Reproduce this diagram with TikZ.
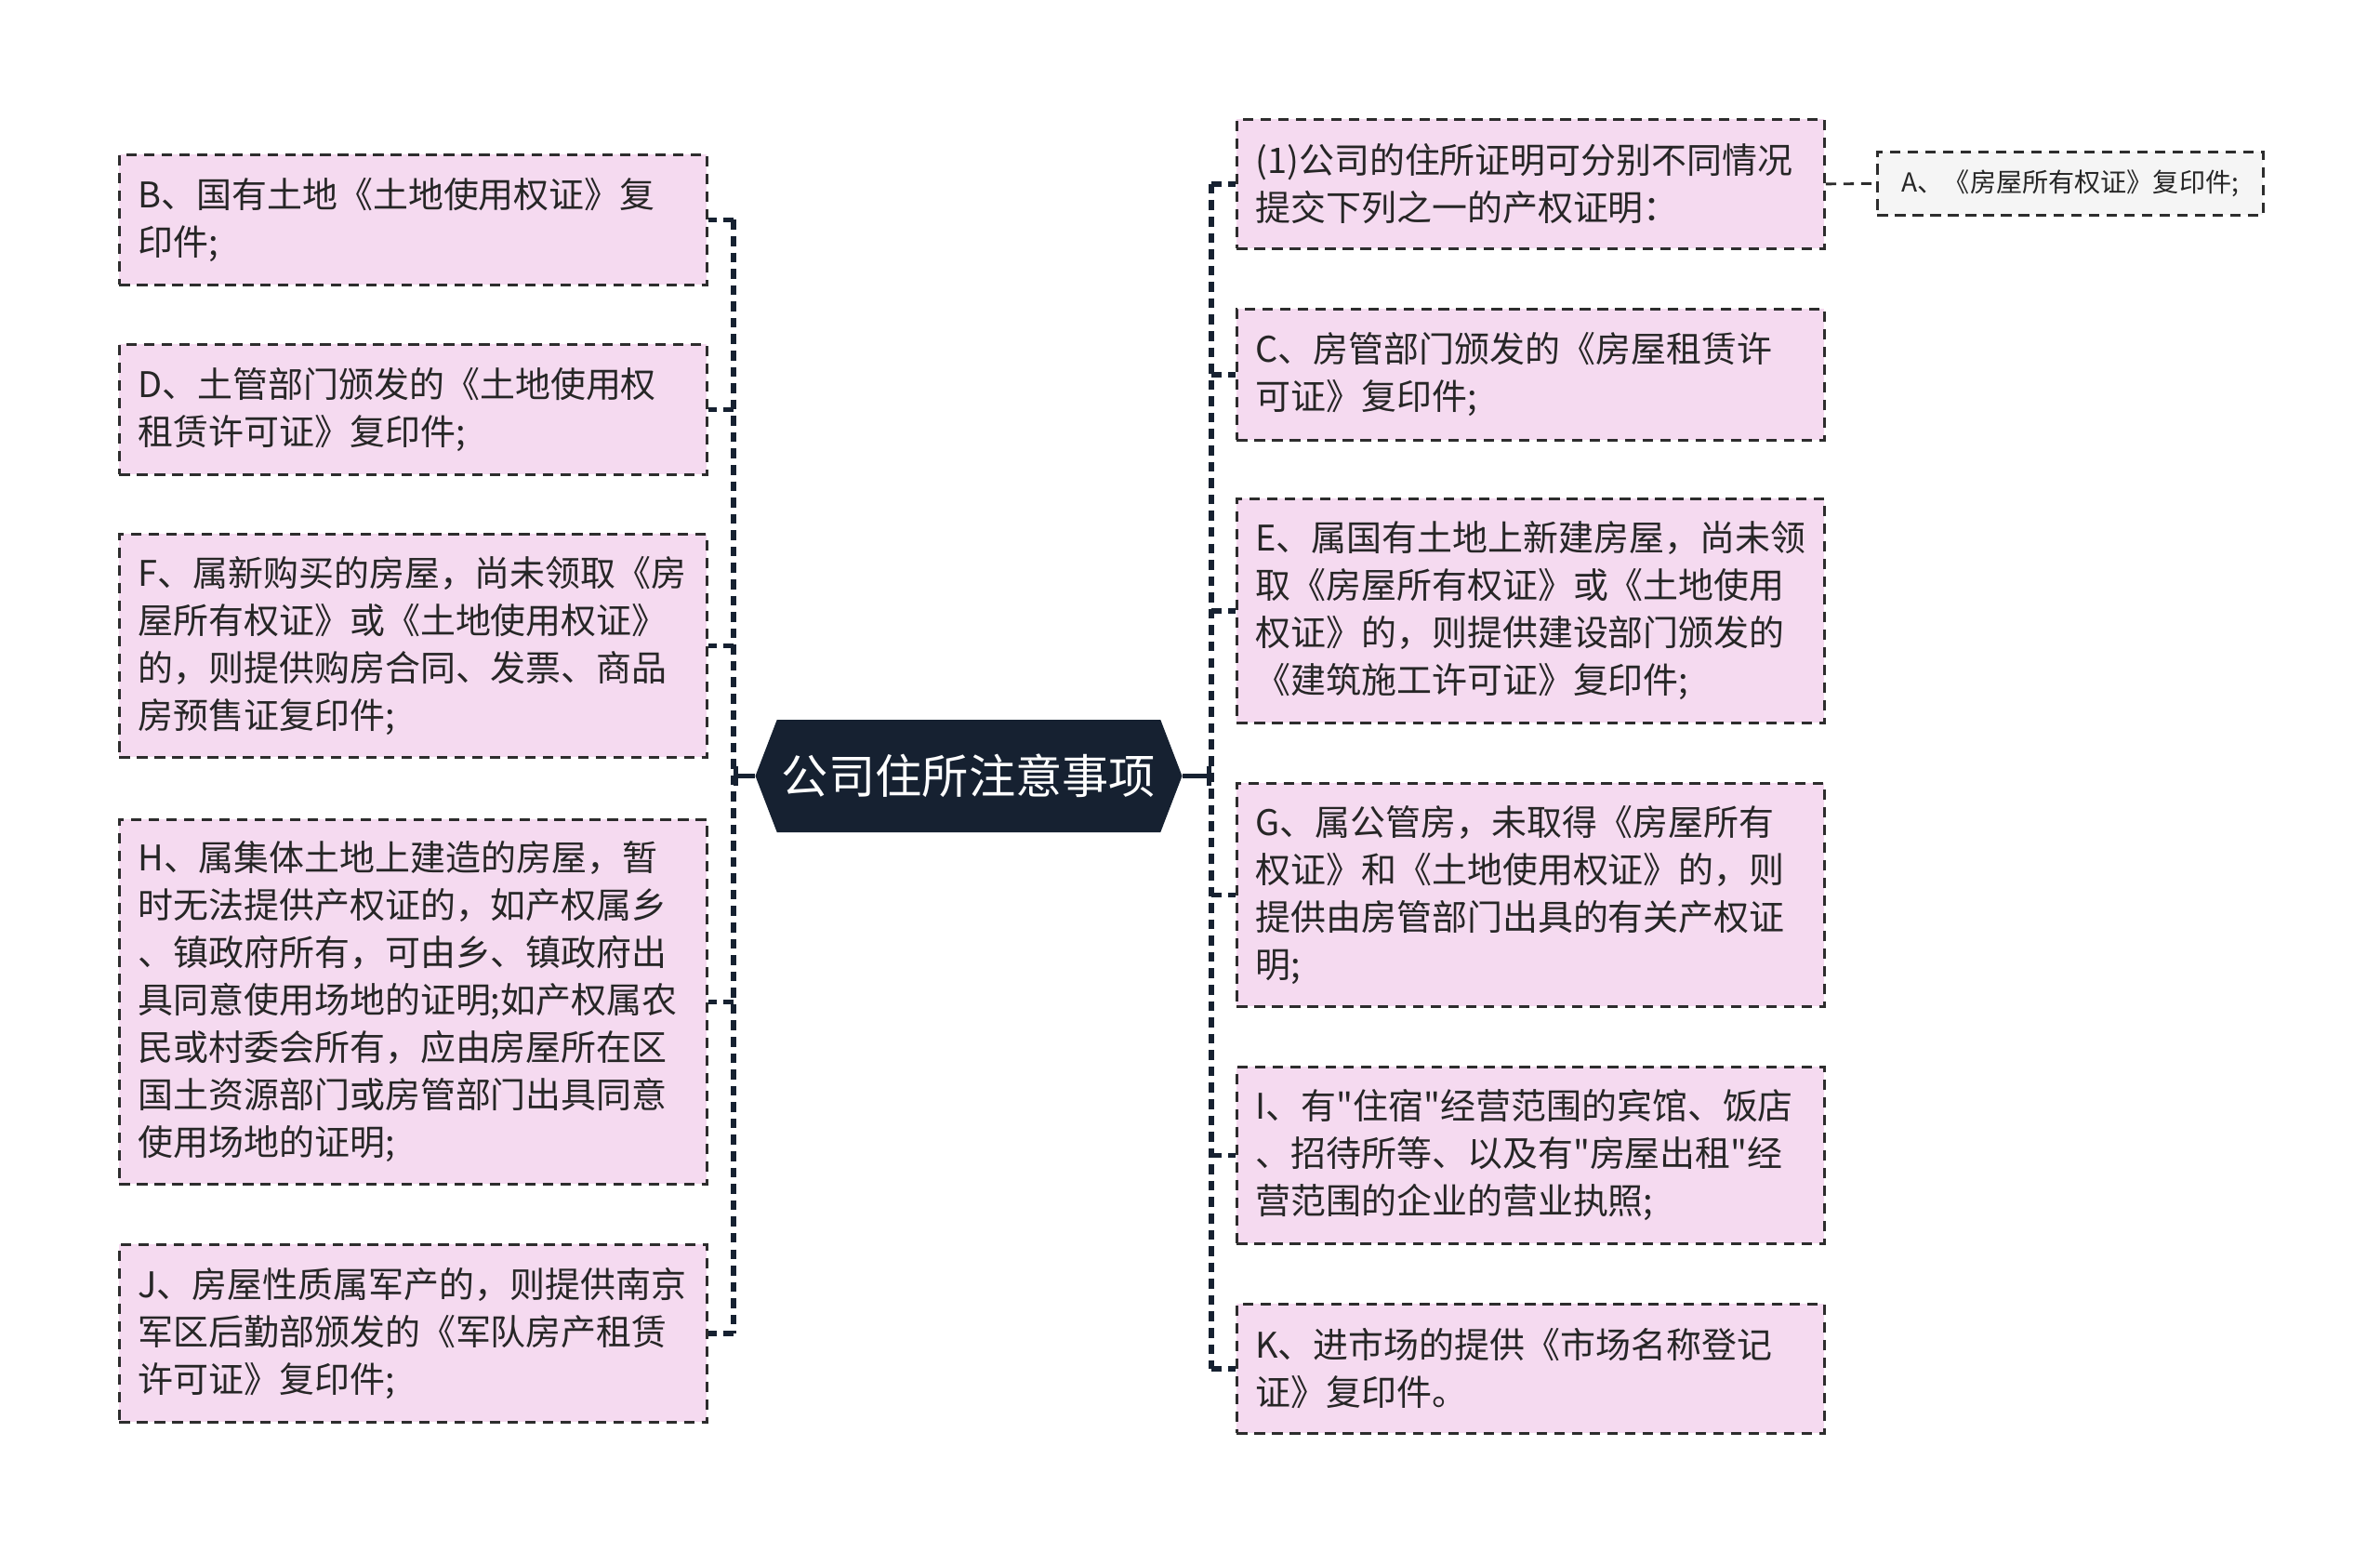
\documentclass[tikz,border=0pt]{standalone}
\usepackage{fontspec}
\setmainfont{Noto Sans CJK SC}[Ligatures=TeXOff]
\usepackage{tikz}
\usetikzlibrary{shapes.symbols, arrows.meta}
\definecolor{boxpink}{RGB}{245,218,240}
\definecolor{rootblue}{RGB}{22,33,49}
\definecolor{lineblk}{RGB}{45,45,45}
\tikzstyle{item}=[draw=lineblk, fill=boxpink, line width=0.8pt, dash pattern=on 3.2pt off 2.2pt, anchor=north west, align=left, inner xsep=0.2cm, inner ysep=0pt, text width=5.92cm, font=\fontsize{10.8}{14.5}\selectfont, text=black!85]
\tikzstyle{leaf}=[draw=lineblk, fill=black!4, line width=0.8pt, dash pattern=on 3.2pt off 2.2pt, anchor=north west, inner xsep=0.1cm, minimum width=4.15cm, minimum height=0.68cm, font=\fontsize{8}{10}\selectfont, text=black!85]
\tikzstyle{trunk}=[draw=rootblue, line width=1.6pt, dash pattern=on 3pt off 2pt]
\tikzstyle{stub}=[draw=lineblk, line width=0.8pt, dash pattern=on 3.2pt off 2.2pt]

\begin{document}
\begin{tikzpicture}
    \useasboundingbox (0,0) rectangle (25.6,-16.69);
    \node[signal, signal to=east and west, signal pointer angle=138, fill=rootblue, text=white, minimum width=4.59cm, minimum height=1.21cm, inner sep=0pt, font=\fontsize{14.3}{16}\selectfont] (root) at (10.42,-8.345) {公司住所注意事项};
    \coordinate (lt) at (7.89,0);
    \coordinate (rt) at (13.03,0);
    % left side
    \node[item, minimum height=1.40cm] (b) at (1.27,-1.65) {B、国有土地《土地使用权证》复\\印件;};
    \node[item, minimum height=1.40cm] (d) at (1.27,-3.69) {D、土管部门颁发的《土地使用权\\租赁许可证》复印件;};
    \node[item, minimum height=2.40cm] (f) at (1.27,-5.73) {F、属新购买的房屋，尚未领取《房\\屋所有权证》或《土地使用权证》\\的，则提供购房合同、发票、商品\\房预售证复印件;};
    \node[item, minimum height=3.92cm] (h) at (1.27,-8.80) {H、属集体土地上建造的房屋，暂\\时无法提供产权证的，如产权属乡\\、镇政府所有，可由乡、镇政府出\\具同意使用场地的证明;如产权属农\\民或村委会所有，应由房屋所在区\\国土资源部门或房管部门出具同意\\使用场地的证明;};
    \node[item, minimum height=1.91cm] (j) at (1.27,-13.37) {J、房屋性质属军产的，则提供南京\\军区后勤部颁发的《军队房产租赁\\许可证》复印件;};
    % right side
    \node[item, minimum height=1.39cm] (p1) at (13.29,-1.27) {(1)公司的住所证明可分别不同情况\\提交下列之一的产权证明：};
    \node[item, minimum height=1.41cm] (c) at (13.29,-3.31) {C、房管部门颁发的《房屋租赁许\\可证》复印件;};
    \node[item, minimum height=2.41cm] (e) at (13.29,-5.35) {E、属国有土地上新建房屋，尚未领\\取《房屋所有权证》或《土地使用\\权证》的，则提供建设部门颁发的\\《建筑施工许可证》复印件;};
    \node[item, minimum height=2.40cm] (g) at (13.29,-8.41) {G、属公管房，未取得《房屋所有\\权证》和《土地使用权证》的，则\\提供由房管部门出具的有关产权证\\明;};
    \node[item, minimum height=1.90cm] (i) at (13.29,-11.46) {I、有"住宿"经营范围的宾馆、饭店\\、招待所等、以及有"房屋出租"经\\营范围的企业的营业执照;};
    \node[item, minimum height=1.39cm] (k) at (13.29,-14.01) {K、进市场的提供《市场名称登记\\证》复印件。};
    \node[leaf] (a) at (20.18,-1.62) {A、《房屋所有权证》复印件;};
    % connectors
    \draw[line width=1.4pt, draw=rootblue, -{Bar[width=6pt]}] (root.west) -- (root.west -| lt);
    \draw[line width=1.4pt, draw=rootblue, -{Bar[width=6pt]}] (root.east) -- (root.east -| rt);
    \draw[trunk] (b.east -| lt) -- (j.east -| lt);
    \draw[trunk] (p1.west -| rt) -- (k.west -| rt);
    \foreach \n in {b,d,f,h,j}
        \draw[trunk] (\n.east -| lt) -- (\n.east);
    \foreach \n in {p1,c,e,g,i,k}
        \draw[trunk] (\n.west -| rt) -- (\n.west);
    \draw[stub] (p1.east) -- (a.west);
\end{tikzpicture}
\end{document}
